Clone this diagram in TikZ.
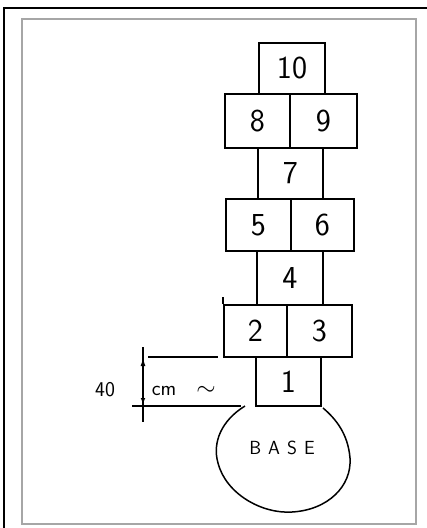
\documentclass[tikz,border=0pt]{standalone}
\usetikzlibrary{arrows.meta}
\begin{document}
\begin{tikzpicture}[x=1pt,y=-1pt,
  cell/.style={draw,line width=1.9pt,inner sep=0pt,font=\fontsize{32}{32}\selectfont\sffamily},
  dim/.style={line width=1.2pt},
  lbl/.style={font=\fontsize{21}{21}\selectfont\sffamily,inner sep=0pt}]
\useasboundingbox (0,0) rectangle (427,528);
% frames
\draw[line width=1.5pt] (4,528) -- (4,8) -- (427,8);
\draw[line width=1.4pt,black!35] (22,19) rectangle (416,524);
% boxes
\node[cell,minimum width=66pt,minimum height=51pt] (b10) at (292,68.5) {10};
\node[cell,minimum width=65pt,minimum height=54pt] (b8) at (257.5,121) {8};
\node[cell,minimum width=67pt,minimum height=54pt] (b9) at (323.5,121) {9};
\node[cell,minimum width=65pt,minimum height=51pt] (b7) at (290.5,173.5) {7};
\node[cell,minimum width=65pt,minimum height=52pt] (b5) at (258.5,225) {5};
\node[cell,minimum width=63pt,minimum height=52pt] (b6) at (322.5,225) {6};
\node[cell,minimum width=66pt,minimum height=54pt] (b4) at (290,278) {4};
\node[cell,minimum width=63pt,minimum height=52pt] (b2) at (255.5,331) {2};
\node[cell,minimum width=65pt,minimum height=52pt] (b3) at (319.5,331) {3};
\node[cell,minimum width=65pt,minimum height=49pt] (b1) at (288.5,381.5) {1};
\draw[line width=1.9pt] (b2.north west) -- ++(0,-7);
% base blob
\coordinate (bl) at (245,406);
\coordinate (br) at (323,408);
\draw[line width=1.5pt] (bl) .. controls (222,420) and (212,442) .. (218,463)
  .. controls (226,494) and (262,514) .. (292,512)
  .. controls (328,510) and (352,486) .. (350,458)
  .. controls (348,434) and (336,419) .. (br);
\node[lbl,font=\fontsize{19}{19}\selectfont\sffamily] (base) at (282,448) {B\hspace{7pt}A\hspace{7pt}S\hspace{7pt}E};
% dimension
\coordinate (t1) at (148,357);
\coordinate (t2) at (218,357);
\coordinate (u1) at (132,406);
\coordinate (u2) at (241,406);
\coordinate (v1) at (143,347);
\coordinate (v2) at (143,422);
\coordinate (vm) at (143,381);
\coordinate (vt) at (143,358);
\coordinate (vb) at (143,404);
\draw[dim] (t1) -- (t2);
\draw[dim] (u1) -- (u2);
\draw[dim] (v1) -- (v2);
\draw[dim,-{Latex[length=8pt,width=5pt]}] (vm) -- (vt);
\draw[dim,-{Latex[length=6pt,width=5pt]}] (vm) -- (vb);
\node[lbl] (forty) at (105,390) {40};
\node[lbl] (cm) at (164,391) {cm};
\node[lbl,font=\fontsize{24}{24}\selectfont] (tilde) at (206,391) {$\sim$};
\end{tikzpicture}
\end{document}
